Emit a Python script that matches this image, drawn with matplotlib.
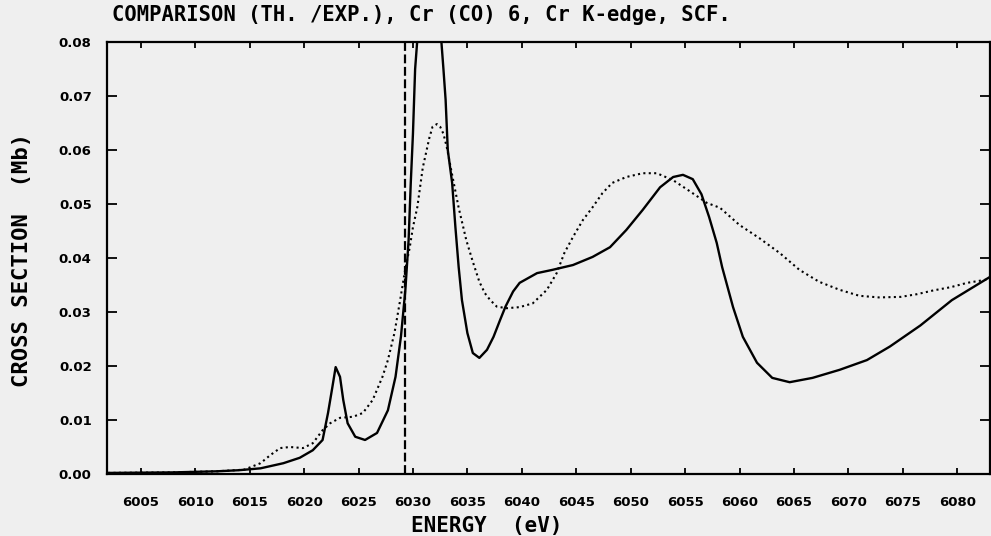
import matplotlib
matplotlib.use("Agg")
import matplotlib.pyplot as plt
import numpy as np

# theoretical curve (solid)
energy_th = [6002, 6008, 6012, 6014, 6016.0, 6018.1, 6019.6, 6020.8, 6021.7, 6022.2,
             6022.6, 6022.9, 6023.3, 6023.6, 6024.0, 6024.7, 6025.6, 6026.7, 6027.7, 6028.4,
             6028.9, 6029.3, 6029.6, 6029.8, 6030.0, 6030.2, 6031.5, 6032.8, 6033.0, 6033.2,
             6033.6, 6033.9, 6034.2, 6034.5, 6035.0, 6035.5, 6036.1, 6036.8, 6037.4, 6038.0,
             6038.5, 6039.2, 6039.8, 6041.4, 6042.8, 6044.7, 6046.5, 6048.1, 6049.6, 6051.1,
             6052.7, 6053.9, 6054.8, 6055.7, 6056.5, 6057.2, 6057.9, 6058.4, 6059.4, 6060.3,
             6061.6, 6063.0, 6064.6, 6066.7, 6069.2, 6071.7, 6073.8, 6076.6, 6079.5, 6083.0]
sigma_th = [0.0002, 0.0003, 0.0005, 0.0007, 0.00105, 0.002, 0.003, 0.0044, 0.0063, 0.0113,
            0.0161, 0.0198, 0.018, 0.0137, 0.0094, 0.0069, 0.0063, 0.0076, 0.0118, 0.018,
            0.0255, 0.034, 0.0433, 0.0539, 0.063, 0.075, 0.11, 0.075, 0.0693, 0.060,
            0.0539, 0.0457, 0.0383, 0.0322, 0.0261, 0.0224, 0.0215, 0.023, 0.0254, 0.0285,
            0.031, 0.0338, 0.0354, 0.0372, 0.0378, 0.0387, 0.0402, 0.042, 0.0452, 0.0489,
            0.0531, 0.055, 0.0554, 0.0546, 0.0518, 0.0476, 0.0428, 0.0383, 0.0309, 0.0254,
            0.0206, 0.0178, 0.017, 0.0178, 0.0193, 0.0211, 0.0236, 0.0275, 0.0322, 0.0365]

# experimental curve (dotted)
energy_exp = [6002, 6008, 6012, 6014.5, 6016.0, 6016.9, 6017.8, 6018.7, 6019.9, 6020.8,
              6021.7, 6022.4, 6023.3, 6024.5, 6025.4, 6026.3, 6027.2, 6027.7, 6028.3, 6028.8,
              6029.3, 6029.7, 6030.0, 6030.4, 6030.9, 6031.5, 6031.8, 6032.2, 6032.5, 6032.8,
              6033.1, 6033.6, 6034.2, 6034.9, 6035.5, 6036.1, 6036.6, 6037.1, 6037.7, 6038.6,
              6039.8, 6041.0, 6042.3, 6043.2, 6043.9, 6044.7, 6045.6, 6046.5, 6047.4, 6048.3,
              6049.6, 6051.1, 6052.4, 6053.9, 6055.4, 6057.0, 6058.2, 6060.0, 6061.8, 6063.7,
              6065.5, 6067.3, 6069.2, 6071.0, 6072.8, 6074.8, 6076.3, 6077.8, 6079.4, 6080.9,
              6083.0]
sigma_exp = [0.0002, 0.0003, 0.0005, 0.0008, 0.002, 0.0035, 0.0048, 0.005, 0.0048, 0.0057,
             0.0081, 0.0094, 0.0104, 0.0106, 0.0113, 0.0137, 0.018, 0.0211, 0.0261, 0.0319,
             0.038, 0.0419, 0.0457, 0.0494, 0.0567, 0.0622, 0.0643, 0.0648, 0.0643, 0.063,
             0.0606, 0.0554, 0.0493, 0.0433, 0.0393, 0.0356, 0.0335, 0.0322, 0.031, 0.0307,
             0.0309, 0.0316, 0.0341, 0.0372, 0.0409, 0.0439, 0.047, 0.0494, 0.052, 0.0539,
             0.055, 0.0557, 0.0557, 0.0544, 0.0524, 0.0502, 0.0493, 0.0461, 0.0437, 0.0409,
             0.0378, 0.0356, 0.0341, 0.033, 0.0327, 0.0328, 0.0333, 0.034, 0.0346, 0.0354,
             0.0361]

edge_energy = 6029.3
x_ticks = [6005, 6010, 6015, 6020, 6025, 6030, 6035, 6040, 6045, 6050, 6055, 6060,
           6065, 6070, 6075, 6080]
y_ticks = [0.00, 0.01, 0.02, 0.03, 0.04, 0.05, 0.06, 0.07, 0.08]

bg = '#efefef'
fig = plt.figure(figsize=(9.91, 5.36), dpi=100, facecolor=bg)
ax = fig.add_axes([107 / 991, 62 / 536, 883 / 991, 432 / 536])
ax.set_facecolor(bg)

ax.plot(energy_th, sigma_th, color='black', lw=1.7, solid_joinstyle='round')
ax.plot(energy_exp, sigma_exp, color='black', lw=1.5, linestyle=(0, (1, 1.6)))
ax.axvline(edge_energy, color='black', lw=1.6, linestyle=(0, (4, 1.6)))

ax.set_xlim(6001.9, 6083.0)
ax.set_ylim(0, 0.08)
ax.set_xticks(x_ticks)
ax.set_yticks(y_ticks)
ax.set_xticklabels([str(t) for t in x_ticks], fontweight='bold', fontsize=9.5)
ax.set_yticklabels(['%.2f' % t for t in y_ticks], fontweight='bold', fontsize=9.5)

ax.tick_params(axis='x', direction='in', length=4, width=1.3, top=True, pad=16)
ax.tick_params(axis='y', direction='in', length=7, width=1.3, right=True, pad=11)
for sp in ax.spines.values():
    sp.set_linewidth(1.6)

mono = 'DejaVu Sans Mono'
fig.text(112 / 991, 1 - 15 / 536, 'COMPARISON (TH. /EXP.), Cr (CO) 6, Cr K-edge, SCF.',
         family=mono, fontweight='bold', fontsize=14.8, ha='left', va='center')
fig.text(22 / 991, 1 - 260 / 536, 'CROSS SECTION  (Mb)', family=mono, fontweight='bold',
         fontsize=16, rotation=90, ha='center', va='center')
fig.text(487 / 991, 10 / 536, 'ENERGY  (eV)', family=mono, fontweight='bold', fontsize=15,
         ha='center', va='center')

fig.savefig('out.png', dpi=100, facecolor=bg)
